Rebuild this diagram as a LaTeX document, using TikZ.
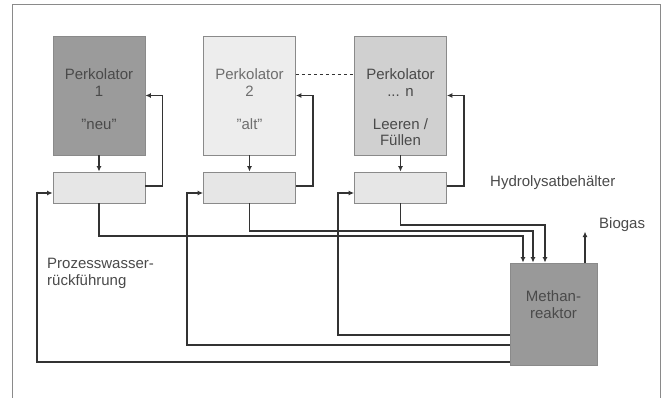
\documentclass[tikz,border=0pt]{standalone}
\usepackage{fontspec}
\setmainfont{Liberation Sans}
\usetikzlibrary{arrows.meta}
\definecolor{txt}{HTML}{4A4A4A}
\definecolor{txtlight}{HTML}{6E6E6E}
\definecolor{ln}{HTML}{333333}
\definecolor{bd}{HTML}{8A8A8A}
\begin{document}
\begin{tikzpicture}[x=1pt,y=-1pt,
  box/.style={draw=bd,line width=0.8pt,minimum width=92pt,inner sep=0pt},
  perk/.style={box,minimum height=119pt},
  hyd/.style={box,fill=hydfill,minimum height=31pt},
  lbl/.style={font=\fontsize{15}{16.5}\selectfont,text=txt,inner sep=0pt},
  arr/.style={draw=ln,line width=1.3pt,-{Latex[length=5.5pt,width=5pt]}},
  con/.style={draw=ln,line width=1.3pt}]
\definecolor{hydfill}{HTML}{E6E6E6}
\useasboundingbox (0,0) rectangle (672,398);
\fill[white] (0,0) rectangle (672,398);
% frame
\draw[bd,line width=0.8pt] (12,398) -- (12,4) -- (660,4) -- (660,398);
% Perkolatoren
\node[perk,fill={rgb,255:red,155;green,155;blue,155}] (p1) at (99,95.5) {};
\node[perk,fill={rgb,255:red,237;green,237;blue,237}] (p2) at (249.5,95.5) {};
\node[perk,fill={rgb,255:red,208;green,208;blue,208}] (pn) at (400.5,95.5) {};
\node[lbl,align=center,anchor=north] (t1) at ([yshift=-33pt]p1.north) {Perkolator\\1\\[16.5pt]\char"22 neu\char"22};
\node[lbl,text=txtlight,align=center,anchor=north] (t2) at ([yshift=-33pt]p2.north) {Perkolator\\2\\[16.5pt]\char"22 alt\char"22};
\node[lbl,align=center,anchor=north] (tn) at ([yshift=-33pt]pn.north) {Perkolator\\... n\\[16.5pt]Leeren /\\Füllen};
\draw[ln,line width=1pt,dashed] ([yshift=20.5pt]p2.east) -- ([yshift=20.5pt]pn.west);
% Hydrolysatbehaelter
\node[hyd] (h1) at (99,187.5) {};
\node[hyd] (h2) at (249.5,187.5) {};
\node[hyd] (h3) at (400.5,187.5) {};
% Methanreaktor
\node[box,fill={rgb,255:red,153;green,153;blue,153},minimum width=87pt,minimum height=102pt] (mr) at (553.5,314) {};
\node[lbl,align=center] (tm) at (553.5,304.5) {Methan-\\reaktor};
% labels
\node[lbl,anchor=west] (lh) at (490,183) {Hydrolysatbehälter};
\node[lbl,anchor=west] (lb) at (599,225) {Biogas};
\node[lbl,anchor=north west,align=left] (lp) at (47,258) {Prozesswasser-\\rückführung};
% Perkolator -> Behaelter
\foreach \i/\j in {p1/h1,p2/h2,pn/h3}{
  \draw[arr] (\i.south) -- (\j.north);
  \draw[arr] ([yshift=1.5pt]\j.east) -- ++(17,0) |- (\i.east);
}
% Behaelter -> Methanreaktor
\draw[arr] (h1.south) |- ([xshift=-30.5pt]mr.north |- 0,236) -- ([xshift=-30.5pt]mr.north);
\draw[arr] (h2.south) |- ([xshift=-20.5pt]mr.north |- 0,231) -- ([xshift=-20.5pt]mr.north);
\draw[arr] (h3.south) |- ([xshift=-8.5pt]mr.north |- 0,225) -- ([xshift=-8.5pt]mr.north);
% Biogas
\draw[arr] ([xshift=31.5pt]mr.north) -- ++(0,-31);
% Prozesswasserrueckfuehrung
\draw[arr] (mr.west |- 0,362) -| (37,193) -- ([yshift=-5.5pt]h1.west);
\draw[arr] (mr.west |- 0,345) -| (187,193) -- ([yshift=-5.5pt]h2.west);
\draw[arr] (mr.west |- 0,335) -| (338,193) -- ([yshift=-5.5pt]h3.west);
\end{tikzpicture}
\end{document}
